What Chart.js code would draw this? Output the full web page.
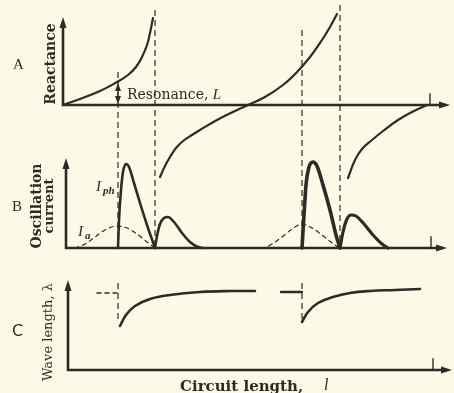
<!DOCTYPE html>
<html>
<head>
<meta charset="utf-8">
<script src="https://cdn.jsdelivr.net/npm/chart.js@4"></script>
<style>
  html, body { margin: 0; padding: 0; background: #fcf9e6; }
  #wrap { width: 454px; height: 393px; }
</style>
</head>
<body>
<div id="wrap"><canvas id="chart"></canvas></div>
<script>
// circuit length l (arbitrary units) and the three panels' values

// A: reactance against circuit length (three tangent-like branches)
const reactA1X = [0, 1.7, 3.7, 5.4, 6.5, 7.3, 7.9, 8.4, 8.7, 9.0];
const reactA1Y = [0, 0.6, 1.4, 2.3, 3.0, 3.8, 4.8, 6.0, 7.2, 8.7];
const reactA2X = [9.7, 10.2, 10.7, 11.3, 12.0, 12.9, 13.7, 15.4, 17.0, 18.5, 20.2, 22.0, 23.4, 24.7, 25.9, 26.7, 27.4];
const reactA2Y = [-7.2, -6.1, -5.2, -4.3, -3.6, -3.0, -2.5, -1.5, -0.7, 0, 0.8, 2.0, 3.3, 4.8, 6.5, 7.8, 9.1];
const reactA3X = [28.5, 29.2, 29.9, 30.9, 32.0, 33.5, 34.9, 36.4];
const reactA3Y = [-7.3, -5.5, -4.4, -3.5, -2.6, -1.5, -0.7, 0];

// B: oscillation current, I_ph (solid) and I_a (dashed)
const iph1X = [5.5, 5.6, 5.8, 6.0, 6.3, 6.6, 7.1, 7.7, 8.4, 9.2];
const iph1Y = [0, 2.8, 5.8, 7.6, 8.4, 8.1, 6.5, 4.5, 2.3, 0];
const iphSmall1X = [9.2, 9.4, 9.7, 10.1, 10.5, 11.1, 11.9, 12.7, 13.5, 14.0];
const iphSmall1Y = [0, 1.2, 2.4, 3.0, 3.1, 2.6, 1.5, 0.6, 0.1, 0];
const ia1X = [1.2, 2.2, 3.2, 4.2, 5.4, 6.4, 7.4, 8.4, 9.2];
const ia1Y = [0, 0.4, 1.1, 1.8, 2.2, 2.0, 1.4, 0.6, 0];
const iph2X = [23.9, 24.1, 24.3, 24.6, 25.0, 25.4, 26.0, 26.7, 27.3, 27.7];
const iph2Y = [0, 3.3, 6.3, 8.1, 8.6, 8.2, 6.3, 3.8, 1.3, 0];
const iphSmall2X = [27.7, 28.0, 28.4, 28.8, 29.3, 30.1, 31.0, 31.9, 32.5];
const iphSmall2Y = [0, 1.6, 2.9, 3.3, 3.2, 2.4, 1.3, 0.4, 0];
const ia2X = [17.4, 19.9, 20.9, 21.9, 22.9, 23.9, 24.9, 25.9, 26.9, 27.7];
const ia2Y = [0, 0, 0.4, 1.1, 1.9, 2.4, 2.0, 1.3, 0.5, 0];

// C: wave length
const waveC1X = [5.7, 6.3, 7.2, 8.7, 10.7, 13.7, 16.7, 19.2];
const waveC1Y = [4.4, 5.5, 6.4, 7.1, 7.5, 7.8, 7.9, 7.9];
const waveC2X = [23.9, 24.5, 25.5, 27.0, 28.7, 30.7, 33.2, 35.7];
const waveC2Y = [4.8, 5.8, 6.7, 7.3, 7.7, 7.9, 8.0, 8.1];
const waveLimitX = [3.4, 5.5];
const waveLimitY = [7.7, 7.7];
const waveLimit2X = [21.8, 23.9];
const waveLimit2Y = [7.8, 7.8];

// resonance lengths (dashed verticals)
const resonanceX = [5.5, 9.2, 23.9, 27.7];
const resonanceTopA = [3.3, 9.5, 7.5, 10.0];
const resonanceBottomA = -14.3;
const resonanceCX = [5.5, 23.9];
const resonanceCTop = 8.7;
const resonanceCBottom = 4.8;

const INK = "#2e2b26";
const pts = (xs, ys) => xs.map((x, i) => ({ x, y: ys[i] }));

function curve(xs, ys, axis, width, dashed, smooth) {
  const ds = {
    data: pts(xs, ys),
    yAxisID: axis,
    borderColor: INK,
    borderWidth: width,
    borderDash: dashed ? [4, 4] : [],
    pointRadius: 0,
    fill: false,
    borderCapStyle: "round",
  };
  if (smooth) ds.tension = 0.4;
  else ds.cubicInterpolationMode = "monotone";
  return ds;
}

function vline(x, top, bottom, axis) {
  return {
    data: [{ x, y: top }, { x, y: bottom }],
    yAxisID: axis,
    borderColor: INK,
    borderWidth: 1.2,
    borderDash: [6, 4],
    pointRadius: 0,
    tension: 0,
  };
}

const datasets = [
  curve(reactA1X, reactA1Y, "yA", 2.2, false, true),
  curve(reactA2X, reactA2Y, "yA", 2.2, false, true),
  curve(reactA3X, reactA3Y, "yA", 2.2, false, true),
  curve(iph1X, iph1Y, "yB", 2.6),
  curve(iphSmall1X, iphSmall1Y, "yB", 2.6),
  curve(ia1X, ia1Y, "yB", 1.2, true),
  curve(iph2X, iph2Y, "yB", 3.6),
  curve(iphSmall2X, iphSmall2Y, "yB", 3.2),
  curve(ia2X, ia2Y, "yB", 1.2, true),
  curve(waveC1X, waveC1Y, "yC", 2.6, false, true),
  curve(waveC2X, waveC2Y, "yC", 2.6, false, true),
  curve(waveLimitX, waveLimitY, "yC", 1.4, true),
  curve(waveLimit2X, waveLimit2Y, "yC", 2.4),
  ...resonanceX.map((x, i) => vline(x, resonanceTopA[i], resonanceBottomA, "yA")),
  ...resonanceCX.map((x) => vline(x, resonanceCTop, resonanceCBottom, "yC")),
];

// axes, arrows and lettering of the three panels
const panels = [
  { axis: "yA", x0: 0, top: 8.8, end: 38.7, tick: 36.7 },
  { axis: "yB", x0: 0.3, top: 9.0, end: 38.4, tick: 36.8 },
  { axis: "yC", x0: 0.5, top: 9.0, end: 38.9, tick: 37.0 },
];

function arrowHead(ctx, x, y, dir) {
  ctx.beginPath();
  if (dir === "up") {
    ctx.moveTo(x, y); ctx.lineTo(x - 3.5, y + 11); ctx.lineTo(x + 3.5, y + 11);
  } else {
    ctx.moveTo(x, y); ctx.lineTo(x - 11, y - 3.5); ctx.lineTo(x - 11, y + 3.5);
  }
  ctx.closePath();
  ctx.fill();
}

function rotText(ctx, text, x, y, font) {
  ctx.save();
  ctx.translate(x, y);
  ctx.rotate(-Math.PI / 2);
  ctx.font = font;
  ctx.textAlign = "center";
  ctx.textBaseline = "middle";
  ctx.fillText(text, 0, 0);
  ctx.restore();
}

const figurePlugin = {
  id: "figure",
  beforeDraw(chart) {
    const ctx = chart.ctx;
    ctx.save();
    ctx.fillStyle = "#fcf9e6";
    ctx.fillRect(0, 0, chart.width, chart.height);
    ctx.restore();
  },
  afterDatasetsDraw(chart) {
    const ctx = chart.ctx;
    const sx = chart.scales.x;
    ctx.save();
    ctx.strokeStyle = INK;
    ctx.fillStyle = INK;
    ctx.lineCap = "square";
    for (const p of panels) {
      const sy = chart.scales[p.axis];
      const px = sx.getPixelForValue(p.x0);
      const base = sy.getPixelForValue(0);
      const top = sy.getPixelForValue(p.top);
      const right = sx.getPixelForValue(p.end);
      ctx.lineWidth = 2.6;
      ctx.beginPath();
      ctx.moveTo(px, top + 6);
      ctx.lineTo(px, base);
      ctx.lineTo(right - 6, base);
      ctx.stroke();
      arrowHead(ctx, px, top, "up");
      arrowHead(ctx, right, base, "right");
      const tx = sx.getPixelForValue(p.tick);
      ctx.lineWidth = 1.4;
      ctx.beginPath();
      ctx.moveTo(tx, base);
      ctx.lineTo(tx, base - 11);
      ctx.stroke();
    }

    // resonance double arrow in panel A
    const yA = chart.scales.yA;
    const rx = sx.getPixelForValue(resonanceX[0]);
    const r1 = yA.getPixelForValue(reactA1Y[3]);
    const r0 = yA.getPixelForValue(0);
    ctx.lineWidth = 1.4;
    ctx.beginPath();
    ctx.moveTo(rx, r1 + 6);
    ctx.lineTo(rx, r0 - 6);
    ctx.stroke();
    ctx.beginPath();
    ctx.moveTo(rx, r1 + 1); ctx.lineTo(rx - 3, r1 + 9); ctx.lineTo(rx + 3, r1 + 9);
    ctx.closePath(); ctx.fill();
    ctx.beginPath();
    ctx.moveTo(rx, r0 - 1); ctx.lineTo(rx - 3, r0 - 9); ctx.lineTo(rx + 3, r0 - 9);
    ctx.closePath(); ctx.fill();

    // lettering
    ctx.textBaseline = "alphabetic";
    ctx.textAlign = "left";
    ctx.font = "15px 'Liberation Serif'";
    ctx.fillText("A", 13, 69);
    ctx.fillText("B", 12, 211);
    ctx.font = "16px 'DejaVu Sans'";
    ctx.fillText("C", 12, 336);

    rotText(ctx, "Reactance", 51, 64, "bold 14px 'DejaVu Serif'");
    rotText(ctx, "Oscillation", 37, 206, "bold 14px 'DejaVu Serif'");
    rotText(ctx, "current", 50, 206, "bold 13px 'DejaVu Serif'");
    rotText(ctx, "Wave length, λ", 49, 332, "13px 'DejaVu Serif'");

    ctx.font = "14px 'DejaVu Serif'";
    ctx.fillText("Resonance,", 127, 99);
    const rw = ctx.measureText("Resonance, ").width;
    ctx.font = "italic 15px 'Liberation Serif'";
    ctx.fillText("L", 127 + rw, 99);

    ctx.font = "bold 15px 'DejaVu Serif'";
    ctx.fillText("Circuit length,", 180, 391);
    ctx.font = "italic 16px 'Liberation Serif'";
    ctx.fillText("l", 324, 390);

    ctx.font = "italic 15px 'Liberation Serif'";
    ctx.fillText("I", 96, 191);
    ctx.fillText("I", 78, 236);
    ctx.font = "italic bold 11px 'Liberation Serif'";
    ctx.fillText("ph", 103, 194);
    ctx.fillText("a", 85, 239);
    ctx.restore();
  },
};

new Chart(document.getElementById("chart"), {
  type: "line",
  data: { datasets },
  options: {
    responsive: true,
    maintainAspectRatio: false,
    animation: false,
    layout: { padding: 0 },
    plugins: { legend: { display: false }, tooltip: { enabled: false } },
    scales: {
      x: { type: "linear", min: -6.3, max: 39.1, display: false },
      yA: { type: "linear", min: -28.8, max: 10.5, display: false },
      yB: { type: "linear", min: -14.5, max: 24.8, display: false },
      yC: { type: "linear", min: -2.3, max: 37.0, display: false },
    },
  },
  plugins: [figurePlugin],
});
</script>
</body>
</html>
